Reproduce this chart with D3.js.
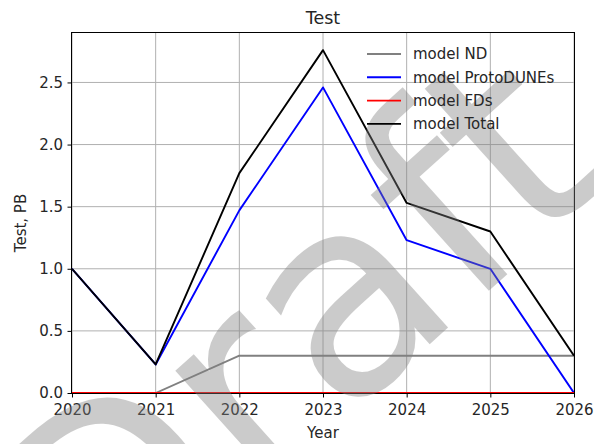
<!DOCTYPE html>
<meta charset="utf-8">
<style>
    body {
        margin: 0;
        background: #fff;
        font-family: "DejaVu Sans", sans-serif;
    }
</style>

<body>
    <svg id="chart" width="594" height="444"></svg>
</body>

<script src="https://cdn.jsdelivr.net/npm/d3@7"></script>
<script>
    // chart values
    var years = [2020, 2021, 2022, 2023, 2024, 2025, 2026],
        ndValues = [0, 0, 0.3, 0.3, 0.3, 0.3, 0.3],
        protoValues = [1.0, 0.23, 1.47, 2.46, 1.23, 1.0, 0],
        fdValues = [0, 0, 0, 0, 0, 0, 0],
        totalValues = [1.0, 0.23, 1.77, 2.76, 1.53, 1.30, 0.30],
        seriesNames = ["model ND", "model ProtoDUNEs", "model FDs", "model Total"],
        seriesColors = ["#808080", "#0000ff", "#ff0000", "#000000"],
        yTicks = [0, 0.5, 1.0, 1.5, 2.0, 2.5];

    var margin = {top: 33, right: 20, bottom: 51, left: 72},
        width = 594 - margin.left - margin.right,
        height = 444 - margin.top - margin.bottom;

    var svg = d3.select("#chart");

    var g = svg.append("g")
        .attr("transform", "translate(" + margin.left + "," + margin.top + ")");

    var x = d3.scaleLinear().domain([2020, 2026]).range([0, width]),
        y = d3.scaleLinear().domain([0, 2.898]).range([height, 0]);

    // grid
    g.append("g").selectAll("line").data(years).enter().append("line")
        .attr("x1", function (d) { return x(d); })
        .attr("x2", function (d) { return x(d); })
        .attr("y1", 0).attr("y2", height)
        .attr("stroke", "#b0b0b0").attr("stroke-width", 1);
    g.append("g").selectAll("line").data(yTicks).enter().append("line")
        .attr("y1", function (d) { return y(d); })
        .attr("y2", function (d) { return y(d); })
        .attr("x1", 0).attr("x2", width)
        .attr("stroke", "#b0b0b0").attr("stroke-width", 1);

    // watermark
    svg.append("text")
        .attr("transform", "translate(100,641) rotate(-42)")
        .attr("font-size", 275)
        .attr("font-family", "DejaVu Sans")
        .style("fill", "#808080")
        .attr("opacity", 0.4)
        .text("Draft");

    // frame sits just outside the plot area
    g.append("rect")
        .attr("x", -0.5).attr("y", -0.5)
        .attr("width", width + 1).attr("height", height + 1)
        .attr("fill", "none").attr("stroke", "#000").attr("stroke-width", 1);

    g.append("clipPath").attr("id", "clip")
        .append("rect").attr("width", width).attr("height", height);

    var line = d3.line()
        .x(function (d, i) { return x(years[i]); })
        .y(function (d) { return y(d); });

    var seriesValues = [ndValues, protoValues, fdValues, totalValues];

    g.append("g").attr("clip-path", "url(#clip)")
        .selectAll("path").data(seriesValues).enter().append("path")
        .attr("d", line)
        .attr("fill", "none")
        .attr("stroke", function (d, i) { return seriesColors[i]; })
        .attr("stroke-width", 1.9)
        .attr("stroke-linejoin", "round");

    // axes
    var xAxis = g.append("g")
        .attr("transform", "translate(0," + height + ")")
        .call(d3.axisBottom(x).tickValues(years).tickFormat(d3.format("d")).tickSizeOuter(0).tickSize(4.5).tickPadding(6.5));
    var yAxis = g.append("g")
        .call(d3.axisLeft(y).tickValues(yTicks).tickFormat(d3.format(".1f")).tickSizeOuter(0).tickSize(4.5).tickPadding(4.5));

    [xAxis, yAxis].forEach(function (a) {
        a.select(".domain").remove();
        a.selectAll("line").attr("stroke", "#000").attr("stroke-width", 1);
        a.selectAll("text").attr("font-size", 15).attr("font-family", "DejaVu Sans").style("fill", "#262626");
    });

    // titles
    svg.append("text")
        .attr("x", margin.left + width / 2).attr("y", 24)
        .attr("text-anchor", "middle").attr("font-size", 17.5).style("fill", "#262626")
        .text("Test");
    svg.append("text")
        .attr("x", margin.left + width / 2).attr("y", 438)
        .attr("text-anchor", "middle").attr("font-size", 15).style("fill", "#262626")
        .text("Year");
    svg.append("text")
        .attr("transform", "translate(26,223) rotate(-90)")
        .attr("text-anchor", "middle").attr("font-size", 15).style("fill", "#262626")
        .text("Test, PB");

    // legend, no frame
    var legend = svg.append("g").selectAll("g").data(seriesNames).enter().append("g")
        .attr("transform", function (d, i) { return "translate(367," + (54 + i * 23.3) + ")"; });
    legend.append("line")
        .attr("x1", 0).attr("x2", 34)
        .attr("stroke", function (d, i) { return seriesColors[i]; })
        .attr("stroke-width", 1.9);
    legend.append("text")
        .attr("x", 46).attr("dy", "0.36em")
        .attr("font-size", 15).style("fill", "#262626")
        .text(function (d) { return d; });
</script>
